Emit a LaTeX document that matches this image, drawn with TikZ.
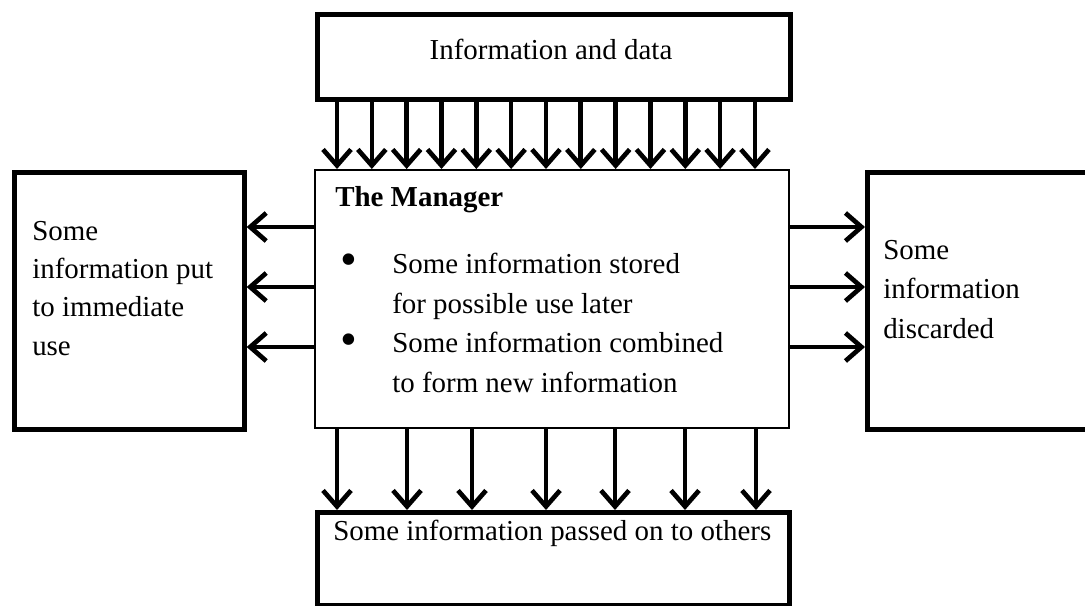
\documentclass[tikz,border=0pt]{standalone}
\usepackage{fontspec}
\setmainfont{Liberation Serif}
\usetikzlibrary{arrows.meta}

\begin{document}
\begin{tikzpicture}
[x=0.75pt,y=-0.75pt,
  boxDecorate/.style={shape=rectangle,draw,line width=3.5pt,inner sep=0pt,anchor=north west},
  mgrDecorate/.style={shape=rectangle,draw,line width=1.6pt,inner sep=0pt,anchor=north west},
  arrowDecorate/.style={-{Straight Barb[length=12pt,width=21pt]},line width=3.5pt},
  textDecorate/.style={anchor=base west,inner sep=0pt,align=left,
    font=\fontsize{21.7}{29.3}\selectfont}]
\useasboundingbox (0,0) rectangle (1085,606);
\clip (0,0) rectangle (1085,606);
%% boxes
\node (data) at (315,12) [boxDecorate,minimum width=354.75pt,minimum height=63.75pt] {};
\node (mgr) at (314,169) [mgrDecorate,minimum width=355.5pt,minimum height=193.5pt] {};
\node (use) at (12,170) [boxDecorate,minimum width=172.5pt,minimum height=192.75pt] {};
\node (discard) at (865,170) [boxDecorate,minimum width=172.5pt,minimum height=192.75pt] {};
\node (others) at (315,510) [boxDecorate,minimum width=354pt,minimum height=69.75pt] {};
%% texts (multi-line nodes sit on the baseline of their last line)
\node (datatext) at (551,60) [textDecorate,anchor=base] {Information and data};
\node (mgrtitle) at (335,207) [textDecorate] {\bfseries The Manager};
\node (bulletA) at (349,275) [textDecorate,anchor=base,font=\fontsize{36}{36}\selectfont] {•};
\node (bulletB) at (349,355) [textDecorate,anchor=base,font=\fontsize{36}{36}\selectfont] {•};
\node (stored) at (392,313) [textDecorate] {Some information stored\\for possible use later};
\node (combined) at (392,392) [textDecorate] {Some information combined\\to form new information};
\node (usetext) at (32,355) [textDecorate,font=\fontsize{21.7}{28.7}\selectfont] {Some\\information put\\to immediate\\use};
\node (discardtext) at (883,338) [textDecorate] {Some\\information\\discarded};
\node (otherstext) at (333,540) [textDecorate] {Some information passed on to others};
%% arrows
\foreach \i in {0,...,12} {
  \pgfmathsetmacro{\x}{337+34.83*\i}
  \draw[arrowDecorate] (data.south -| \x,0) -- (mgr.north -| \x,0);
}
\foreach \y in {227,287,347} {
  \draw[arrowDecorate] (mgr.west |- 0,\y) -- (use.east |- 0,\y);
  \draw[arrowDecorate] (mgr.east |- 0,\y) -- (discard.west |- 0,\y);
}
\foreach \x in {337,407,472,546,615,685,756} {
  \draw[arrowDecorate] (mgr.south -| \x,0) -- (others.north -| \x,0);
}
\end{tikzpicture}
\end{document}
